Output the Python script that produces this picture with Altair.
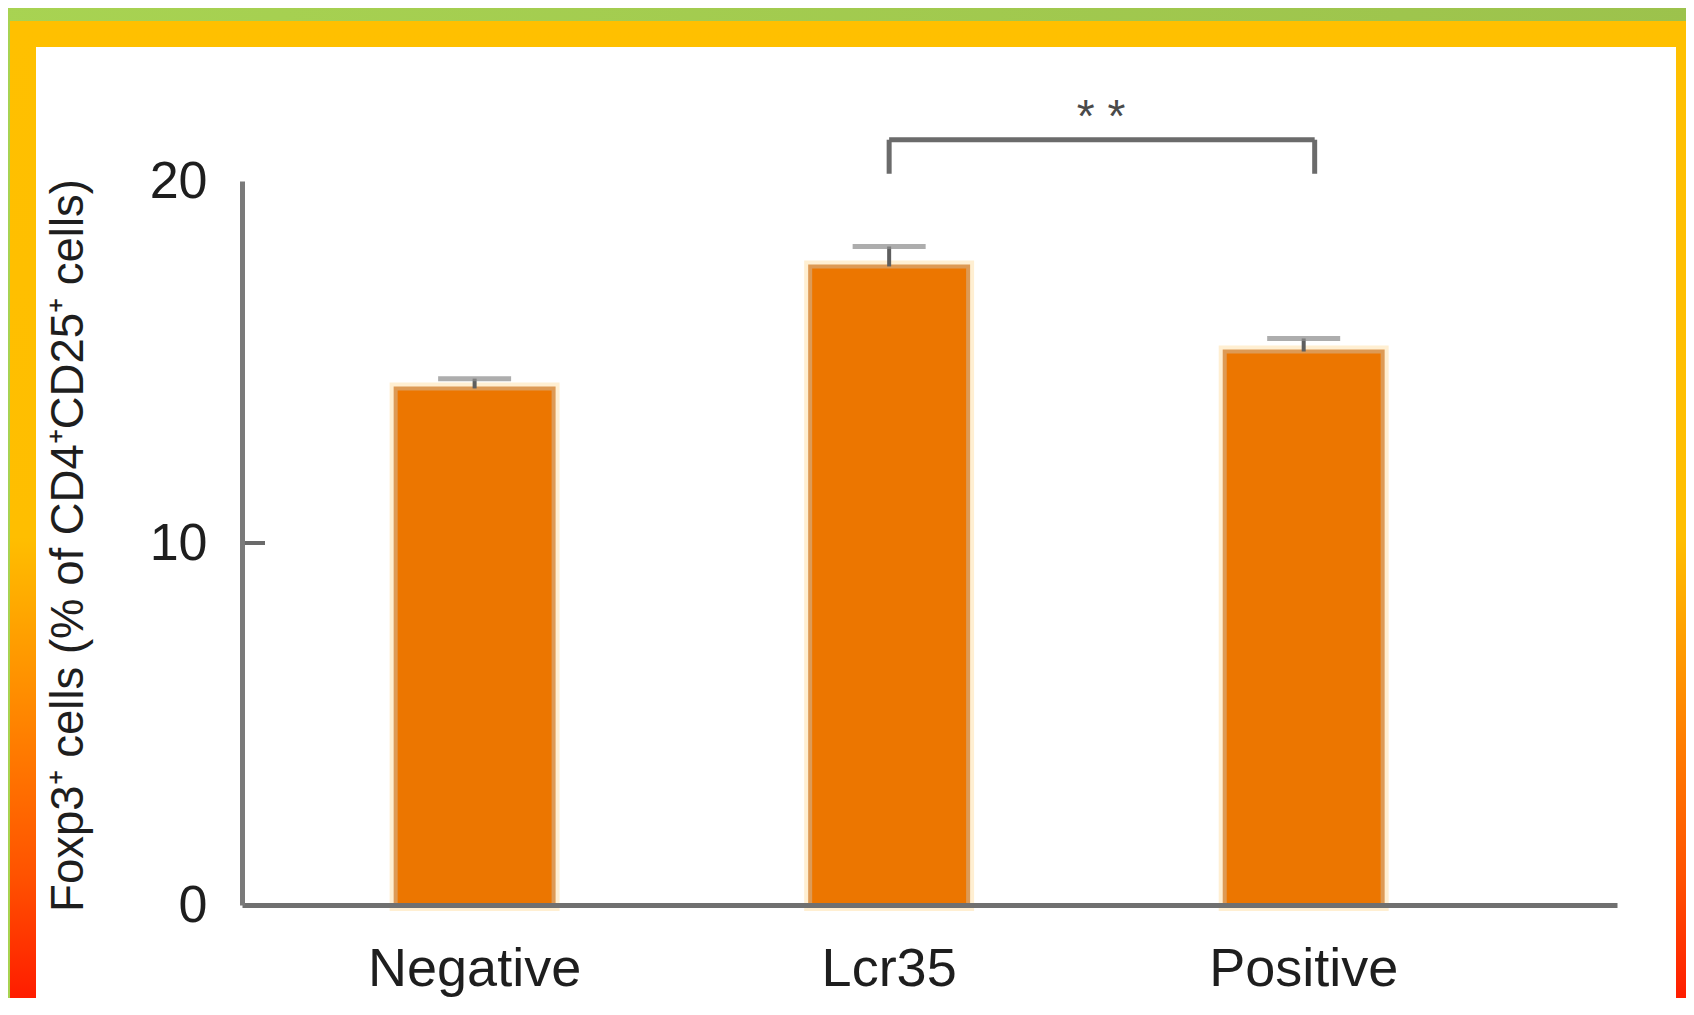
import altair as alt
import pandas as pd

# ---- data ----
categories = ["Negative", "Lcr35", "Positive"]
means = [14.27, 17.64, 15.29]
errors = [0.27, 0.55, 0.36]
y_ticks = [0, 10, 20]
y_title = "Foxp3\u207a cells (% of CD4\u207aCD25\u207a cells)"
bracket_pair = ["Lcr35", "Positive"]
bracket_top = 21.14
bracket_bottom = 20.2
sig_label = "* *"

df = pd.DataFrame({"cat": categories, "value": means,
                   "upper": [m + e for m, e in zip(means, errors)]})

W, H = 1375, 724
SANS = "Liberation Sans, Arial, sans-serif"

x_scale = alt.Scale(domain=categories, paddingInner=0.619, paddingOuter=0.468, align=0.396)
y_scale = alt.Scale(domain=[0, 20], nice=False)

X = alt.X("cat:N", scale=x_scale, sort=categories,
          axis=alt.Axis(title=None, labelAngle=0, labelFont=SANS, labelFontSize=54,
                        labelColor="#1e1e1e", labelBaseline="alphabetic", labelPadding=80,
                        labelLimit=0, ticks=False, tickSize=0, domainColor="#707070",
                        domainWidth=5, grid=False, zindex=2))
Y = alt.Y("value:Q", scale=y_scale,
          axis=alt.Axis(title=y_title, values=y_ticks, labelFont=SANS, labelFontSize=52,
                        labelColor="#1e1e1e", labelPadding=35, ticks=False, tickSize=0,
                        domainColor="#7a7a7a", domainWidth=5, grid=False,
                        titleFont=SANS, titleFontSize=45.5, titleFontWeight="normal",
                        titleColor="#1e1e1e", titleX=-150, titleY=364, titleAngle=270,
                        titleAlign="center", titleBaseline="bottom", titleLimit=0, zindex=2))

one = alt.Data(values=[{"k": 0}])

# ---- decorative frame ----
green = alt.Chart(one).mark_rect(
    color=alt.LinearGradient(gradient="linear",
                             stops=[alt.GradientStop(color="#A8D352", offset=0),
                                    alt.GradientStop(color="#9CC24C", offset=1)],
                             x1=0, x2=1, y1=0, y2=0)
).encode(x=alt.value(-260), x2=alt.value(1460), y=alt.value(-200), y2=alt.value(840))

frame = alt.Chart(one).mark_rect(
    color=alt.LinearGradient(gradient="linear",
                             stops=[alt.GradientStop(color="#FFC000", offset=0),
                                    alt.GradientStop(color="#FFBE00", offset=0.52),
                                    alt.GradientStop(color="#FF8C00", offset=0.68),
                                    alt.GradientStop(color="#FF5200", offset=0.86),
                                    alt.GradientStop(color="#FF1500", offset=1)],
                             x1=0, x2=0, y1=0, y2=1)
).encode(x=alt.value(-232), x2=alt.value(1452), y=alt.value(-160), y2=alt.value(834))

white = alt.Chart(one).mark_rect(color="white").encode(
    x=alt.value(-206), x2=alt.value(1434), y=alt.value(-134), y2=alt.value(829))

# ---- bars ----
base = alt.Chart(df)
halo = base.mark_bar(color="#EC7600", stroke="#FFEFD2", strokeWidth=12).encode(x=X, y=Y)
bars = base.mark_bar(color="#EC7600", stroke="#DD9A55", strokeWidth=4).encode(x=X, y=Y)

stems = base.mark_rule(color="#5e5e5e", strokeWidth=4).encode(
    x=alt.X("cat:N", scale=x_scale, sort=categories), y=alt.Y("value:Q", scale=y_scale),
    y2="upper:Q")
caps = base.mark_tick(color="#8a8a8a", thickness=5, size=73, orient="horizontal").encode(
    x=alt.X("cat:N", scale=x_scale, sort=categories), y=alt.Y("upper:Q", scale=y_scale))

# y tick at 10 (pointing inward)
ytick = alt.Chart(one).mark_rule(color="#6a6a6a", strokeWidth=4).encode(
    y=alt.datum(10, scale=y_scale), x=alt.value(0), x2=alt.value(23))

# significance bracket
bdf = pd.DataFrame({"a": [bracket_pair[0]], "b": [bracket_pair[1]],
                    "top": [bracket_top], "bot": [bracket_bottom], "lab": [sig_label]})
bbase = alt.Chart(bdf)
bh = bbase.mark_rule(color="#6b6b6b", strokeWidth=5, x2Offset=11).encode(
    x=alt.X("a:N", scale=x_scale), x2="b:N", y=alt.Y("top:Q", scale=y_scale))
bl = bbase.mark_rule(color="#6b6b6b", strokeWidth=5).encode(
    x=alt.X("a:N", scale=x_scale), y=alt.Y("bot:Q", scale=y_scale), y2="top:Q")
br = bbase.mark_rule(color="#6b6b6b", strokeWidth=5, xOffset=11).encode(
    x=alt.X("b:N", scale=x_scale), y=alt.Y("bot:Q", scale=y_scale), y2="top:Q")
star = bbase.mark_text(color="#4a4a4a", font=SANS, fontSize=46, dx=212, dy=-8,
                       baseline="alphabetic").encode(
    x=alt.X("a:N", scale=x_scale), y=alt.Y("top:Q", scale=y_scale), text="lab:N")

chart = alt.layer(green, frame, white, halo, bars, stems, caps, ytick, bh, bl, br, star).properties(
    width=W, height=H,
    autosize=alt.AutoSizeParams(type="none"),
    padding={"left": 234, "top": 173, "right": 69, "bottom": 93},
).configure_view(stroke=None).configure(background="#A5CF50")

chart.save("out.html", embed_options={"renderer": "svg", "actions": False})
